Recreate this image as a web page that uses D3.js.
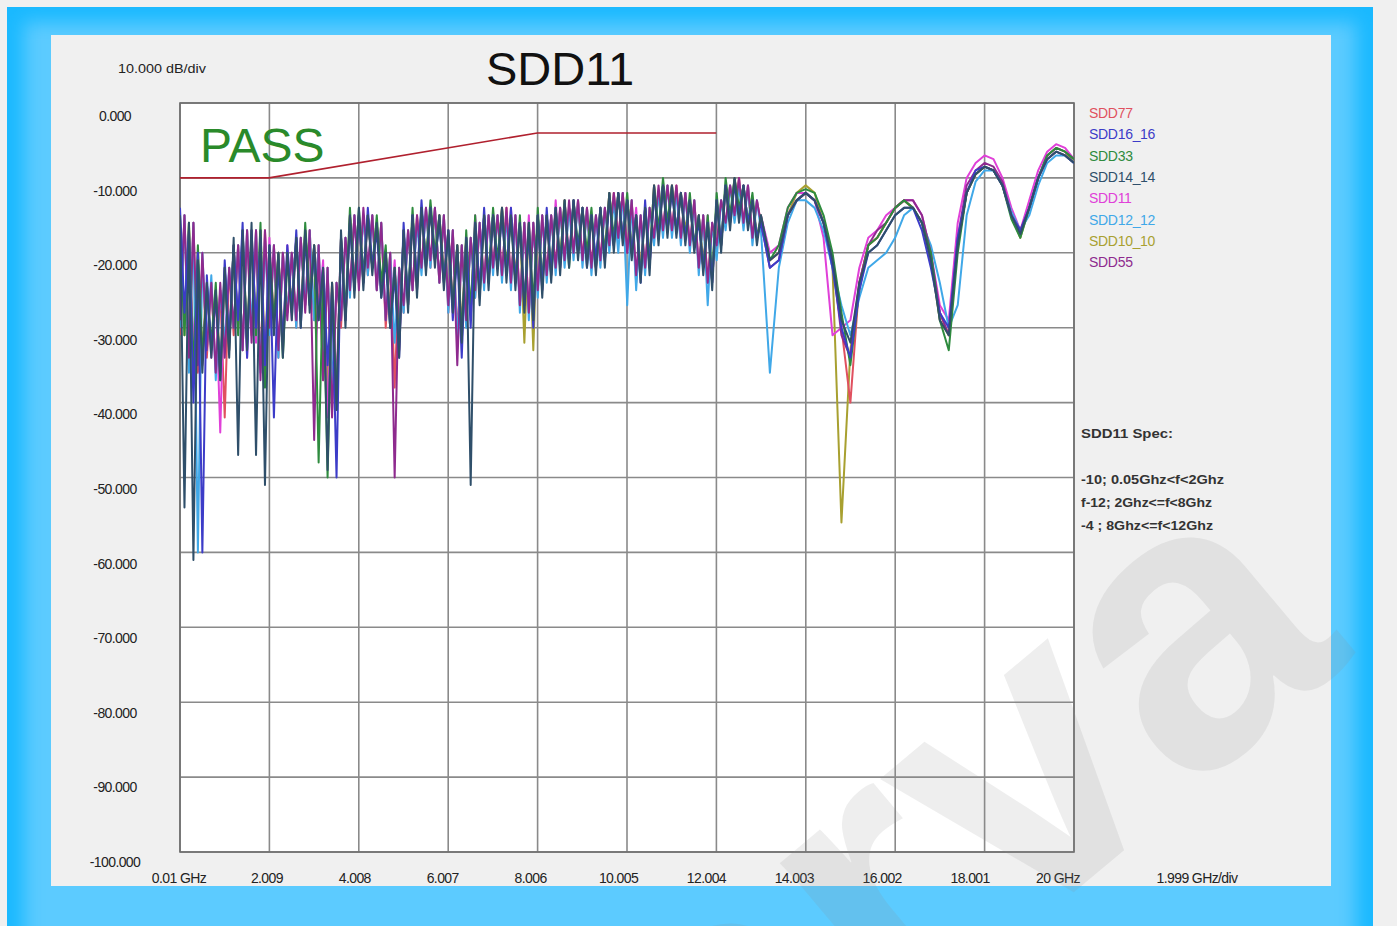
<!DOCTYPE html>
<html><head><meta charset="utf-8">
<script src="https://cdn.jsdelivr.net/npm/d3@7"></script>
<style>body{margin:0;background:#f0f0f0;overflow:hidden}text{font-family:"Liberation Sans",Arial,sans-serif}</style>
</head><body><svg id="c" width="1397" height="926"></svg>
<script>
// ---- sweep (x) ----
const combStart = 0.01, combStep = 0.1, combCount = 130;   // dense part 0.01 .. 12.91 GHz
const tailStart = 13.0, tailStep = 0.2, tailCount = 36;    // 13.0 .. 20.0 GHz
const xTickValues = [0.01, 2.009, 4.008, 6.007, 8.006, 10.005, 12.004, 14.003, 16.002, 18.001, 20.0];
const xTickLabels = ["0.01 GHz","2.009","4.008","6.007","8.006","10.005","12.004","14.003","16.002","18.001","20 GHz"];
const yTickValues = [0,-10,-20,-30,-40,-50,-60,-70,-80,-90,-100];
const yTickLabels = ["0.000","-10.000","-20.000","-30.000","-40.000","-50.000","-60.000","-70.000","-80.000","-90.000","-100.000"];

// ---- spec mask ----
const specFreq = [0.01, 2, 8, 12];
const specDb = [-10, -10, -4, -4];

// ---- series names / colours ----
const seriesNames = ["SDD77","SDD16_16","SDD33","SDD14_14","SDD11","SDD12_12","SDD10_10","SDD55"];
const seriesColors = ["#e0505f","#3c3cc8","#2e8b3e","#2f4f6a","#e040d8","#40a8e8","#a8a030","#8e2a8e"];
const drawOrder = ["SDD10_10","SDD77","SDD11","SDD12_12","SDD55","SDD33","SDD16_16","SDD14_14"];

// ---- series values (dB) ----
const sdd14_14 = [-15,-54,-16,-61,-21,-36,-24,-34,-25,-37,-22,-34,-18,-47,-17,-33,-16,-47,-17,-51,
-19,-31,-20,-34,-20,-29,-18,-30,-17,-28,-19,-29,-22,-49,-24,-41,-17,-30,-15,-26,
-14,-25,-15,-23,-16,-26,-20,-30,-22,-34,-17,-28,-15,-26,-14,-23,-14,-22,-15,-25,
-17,-28,-19,-32,-18,-51,-16,-27,-15,-25,-15,-23,-14,-24,-15,-25,-16,-28,-16,-29,
-15,-26,-15,-24,-14,-23,-13,-22,-13,-21,-14,-22,-15,-23,-14,-22,-12,-20,-12,-19,
-13,-21,-15,-24,-14,-23,-11,-19,-11,-18,-11,-18,-12,-19,-13,-20,-15,-23,-16,-25,
-13,-20,-11,-17,-10,-16,-11,-17,-13,-19,
-15,-21,-20,-15,-13,-12,-13,-16,-21,-29,-32,-24,-20,-19,-17,-15,-14,-14,-16,-21,-29,-31,-19,-12,-9.5,-8.5,-9,-11,-15,-17.5,-14,-10,-7.5,-6.5,-7,-8];
const sdd16_16 = [-14,-28,-17,-40,-20,-60,-23,-33,-26,-36,-21,-32,-19,-29,-16,-34,-17,-30,-18,-35,
-19,-42,-21,-32,-19,-28,-17,-30,-18,-27,-20,-29,-22,-35,-25,-50,-18,-29,-16,-25,
-15,-24,-14,-22,-17,-26,-21,-30,-23,-34,-16,-27,-15,-24,-13,-22,-14,-21,-16,-24,
-17,-29,-20,-34,-18,-30,-16,-25,-14,-24,-15,-22,-15,-23,-14,-24,-16,-27,-17,-30,
-15,-25,-14,-23,-14,-22,-14,-21,-13,-20,-14,-22,-15,-21,-14,-21,-13,-19,-12,-18,
-13,-20,-15,-24,-13,-22,-12,-18,-11,-17,-12,-17,-12,-18,-13,-19,-16,-22,-16,-24,
-13,-19,-11,-16,-11,-15,-11,-16,-13,-18,
-16,-22,-21,-15,-13,-12,-13,-16,-22,-30,-34,-25,-20,-19,-17,-15,-14,-14,-17,-22,-28,-30,-18,-12,-9,-8.5,-9,-11,-15,-17,-14,-10,-7.5,-6.5,-7,-8];
const sdd33 = [-16,-31,-16,-36,-19,-34,-25,-32,-24,-37,-23,-33,-19,-31,-17,-32,-18,-31,-16,-38,
-20,-29,-20,-34,-21,-27,-18,-29,-16,-26,-19,-48,-23,-50,-24,-40,-18,-28,-14,-25,
-14,-23,-15,-22,-15,-24,-19,-30,-22,-32,-17,-26,-14,-25,-14,-21,-13,-20,-15,-23,
-18,-27,-19,-31,-17,-28,-15,-26,-15,-23,-14,-21,-14,-22,-15,-24,-15,-27,-16,-27,
-14,-24,-15,-22,-14,-21,-13,-22,-13,-19,-14,-20,-14,-22,-14,-20,-12,-18,-12,-18,
-12,-20,-15,-23,-14,-21,-11,-17,-10,-16,-11,-17,-12,-18,-12,-19,-15,-22,-15,-23,
-12,-19,-10,-15,-10,-14,-11,-16,-12,-18,
-15,-21,-19,-14,-12,-11.5,-12,-15,-20,-28,-35,-25,-19,-18,-16,-14,-13,-14,-16,-20,-29,-33,-20,-12,-9.5,-8.5,-9,-11,-15.5,-18,-14,-10,-7,-6,-6.5,-7.5];
const sdd11 = [-16,-29,-17,-33,-20,-35,-24,-34,-25,-44,-22,-33,-19,-30,-18,-34,-17,-32,-18,-36,
-18,-30,-20,-33,-19,-29,-18,-28,-17,-27,-19,-28,-21,-42,-24,-38,-18,-29,-15,-24,
-15,-24,-15,-22,-16,-25,-20,-29,-21,-33,-17,-27,-15,-25,-14,-22,-14,-21,-15,-23,
-17,-27,-19,-31,-18,-29,-15,-25,-15,-24,-15,-22,-14,-23,-14,-24,-16,-27,-15,-28,
-15,-25,-15,-23,-13,-22,-13,-21,-13,-20,-14,-21,-15,-22,-14,-21,-12,-19,-12,-18,
-13,-20,-14,-23,-14,-22,-11,-18,-11,-17,-11,-17,-12,-18,-13,-19,-15,-22,-15,-24,
-13,-19,-11,-16,-10,-15,-11,-16,-13,-18,
-15,-20,-19,-14,-12,-12,-13,-18,-31,-30,-29,-22,-18,-17,-15,-14,-13,-13,-15,-20,-27,-29,-16,-10,-8,-7,-7.5,-10,-14,-17,-13,-9,-6.5,-5.5,-6,-7.5];
const sdd12_12 = [-30,-15,-36,-16,-60,-20,-33,-23,-37,-25,-32,-22,-30,-19,-33,-17,-30,-17,-36,-18,
-31,-19,-34,-20,-28,-20,-30,-18,-27,-17,-29,-19,-35,-22,-38,-24,-29,-18,-26,-15,
-24,-15,-23,-15,-25,-16,-29,-20,-32,-22,-28,-17,-25,-16,-23,-14,-22,-14,-24,-15,
-28,-17,-32,-19,-30,-18,-26,-16,-25,-15,-23,-15,-24,-15,-25,-15,-28,-16,-29,-16,
-26,-15,-24,-15,-23,-14,-22,-14,-21,-13,-22,-14,-23,-15,-22,-14,-20,-13,-20,-12,
-27,-13,-25,-15,-23,-14,-19,-12,-18,-11,-18,-12,-19,-12,-20,-13,-23,-15,-27,-16,
-21,-13,-17,-11,-16,-11,-17,-11,-19,-13,
-17,-36,-22,-16,-13,-13,-14,-17,-22,-27,-31,-26,-22,-21,-20,-18,-15,-14,-16,-19,-24,-30,-27,-15,-10.5,-9,-9,-11,-14.5,-17,-15,-11,-8,-7,-7,-8];
const sdd10_10 = [-15,-31,-16,-34,-21,-33,-24,-33,-25,-35,-22,-32,-19,-30,-17,-32,-17,-30,-17,-34,
-19,-29,-20,-32,-20,-27,-18,-29,-17,-26,-19,-27,-22,-38,-24,-40,-18,-29,-15,-24,
-15,-24,-15,-22,-16,-24,-20,-28,-22,-33,-17,-27,-15,-24,-14,-21,-14,-21,-15,-23,
-17,-27,-19,-30,-18,-28,-16,-25,-15,-23,-15,-22,-14,-22,-15,-23,-16,-32,-16,-33,
-15,-24,-15,-23,-14,-21,-13,-21,-13,-20,-14,-21,-15,-22,-14,-20,-12,-19,-12,-18,
-13,-19,-15,-22,-14,-21,-11,-17,-11,-16,-11,-17,-12,-17,-13,-19,-15,-21,-16,-23,
-13,-19,-11,-16,-10,-15,-11,-16,-13,-18,
-16,-21,-20,-15,-12,-11,-12,-16,-22,-56,-33,-24,-19,-18,-16,-14,-13,-14,-16,-21,-29,-31,-19,-12,-9.5,-8.5,-9,-11,-15,-18,-14,-10,-7,-6,-6.5,-8];
const sdd77 = [-31,-15,-35,-16,-36,-21,-34,-24,-36,-25,-42,-22,-31,-19,-33,-17,-31,-17,-35,-17,
-31,-19,-34,-20,-28,-20,-30,-18,-27,-17,-29,-19,-37,-22,-41,-24,-30,-18,-25,-15,
-24,-15,-23,-15,-25,-16,-30,-20,-38,-22,-28,-17,-25,-15,-22,-14,-22,-14,-24,-15,
-28,-17,-31,-19,-29,-18,-26,-16,-24,-15,-22,-15,-23,-14,-24,-15,-27,-16,-28,-16,
-25,-15,-23,-15,-22,-14,-21,-14,-20,-13,-21,-14,-22,-15,-21,-14,-19,-12,-18,-12,
-20,-13,-24,-15,-22,-14,-18,-12,-17,-11,-17,-11,-18,-12,-19,-13,-22,-15,-24,-16,
-19,-13,-16,-11,-15,-10,-16,-11,-18,-13,
-16,-21,-20,-15,-13,-12,-13,-16,-21,-30,-40,-24,-19,-18,-16,-14,-13,-14,-16,-21,-28,-31,-19,-12,-9.5,-8.5,-9,-11,-15,-17,-14,-10,-7.5,-6.5,-7,-8];
const sdd55 = [-29,-15,-34,-16,-35,-20,-33,-24,-36,-24,-34,-22,-30,-19,-33,-17,-32,-17,-37,-17,
-30,-19,-33,-20,-29,-20,-29,-18,-28,-17,-45,-19,-37,-22,-42,-24,-29,-18,-25,-15,
-25,-14,-22,-15,-25,-16,-29,-20,-50,-22,-27,-17,-25,-15,-22,-14,-21,-14,-24,-15,
-27,-17,-35,-19,-29,-18,-25,-16,-24,-15,-22,-15,-23,-14,-24,-15,-27,-16,-28,-16,
-25,-15,-23,-15,-22,-14,-21,-13,-20,-13,-21,-14,-22,-15,-21,-14,-19,-12,-18,-12,
-20,-13,-23,-15,-22,-14,-18,-11,-17,-11,-17,-11,-18,-12,-19,-13,-22,-15,-24,-16,
-19,-13,-16,-11,-15,-10,-16,-11,-18,-13,
-16,-22,-21,-15,-13,-12,-13,-16,-21,-31,-34,-24,-19,-17,-16,-14,-13,-13,-15,-20,-28,-31,-18,-11,-9,-8,-8.5,-10.5,-15,-17,-14,-10,-7,-6,-6.5,-7.5];

const seriesValues = {SDD77:sdd77, SDD16_16:sdd16_16, SDD33:sdd33, SDD14_14:sdd14_14,
  SDD11:sdd11, SDD12_12:sdd12_12, SDD10_10:sdd10_10, SDD55:sdd55};

const freqs = d3.range(combCount).map(i => combStart + combStep*i)
  .concat(d3.range(tailCount).map(i => tailStart + tailStep*i));

// ---- layout ----
const svg = d3.select("#c");
const plot = {l:180, t:103, r:1074, b:852};

const defs = svg.append("defs");
const blur = defs.append("filter").attr("id","bl").attr("x","-10%").attr("y","-10%").attr("width","120%").attr("height","120%");
blur.append("feGaussianBlur").attr("stdDeviation", 9);
defs.append("clipPath").attr("id","frameClip").append("rect").attr("x",7).attr("y",7).attr("width",1366).attr("height",930);
defs.append("clipPath").attr("id","plotClip").append("rect")
  .attr("x",plot.l).attr("y",plot.t).attr("width",plot.r-plot.l).attr("height",plot.b-plot.t);

// blue frame
const fr = svg.append("g").attr("clip-path","url(#frameClip)");
fr.append("rect").attr("x",7).attr("y",7).attr("width",1366).attr("height",930).attr("fill","#1ab9ff");
fr.append("rect").attr("x",24).attr("y",22).attr("width",1332).attr("height",930).attr("fill","#5ccbff").attr("filter","url(#bl)");

// inner panel
svg.append("rect").attr("x",51).attr("y",35).attr("width",1280).attr("height",851).attr("fill","#f0f0f0");

const x = d3.scaleLinear().domain([0.01, 20.0]).range([plot.l, plot.r]);
const y = d3.scaleLinear().domain([0, -100]).range([plot.t, plot.b]);

svg.append("rect").attr("x",plot.l).attr("y",plot.t).attr("width",plot.r-plot.l).attr("height",plot.b-plot.t).attr("fill","#ffffff");

// grid
const grid = svg.append("g");
grid.selectAll("line.v").data(xTickValues).join("line")
  .attr("x1",d=>x(d)).attr("x2",d=>x(d)).attr("y1",plot.t).attr("y2",plot.b)
  .attr("stroke","#8a8a8a").attr("stroke-width",1.6);
grid.selectAll("line.h").data(yTickValues).join("line")
  .attr("x1",plot.l).attr("x2",plot.r).attr("y1",d=>y(d)).attr("y2",d=>y(d))
  .attr("stroke","#8a8a8a").attr("stroke-width",1.6);
svg.append("rect").attr("x",plot.l).attr("y",plot.t).attr("width",plot.r-plot.l).attr("height",plot.b-plot.t)
  .attr("fill","none").attr("stroke","#6e6e6e").attr("stroke-width",1.6);

// spec mask line
const specLine = d3.line().x((d,i)=>x(specFreq[i])).y(d=>y(d));
svg.append("path").attr("d", specLine(specDb)).attr("fill","none").attr("stroke","#b0202e").attr("stroke-width",1.6);

// PASS
svg.append("text").attr("x",200).attr("y",162).attr("font-size",48).attr("fill","#2a8a2a").text("PASS");

// traces
const line = d3.line().x((d,i)=>x(freqs[i])).y(d=>y(d)).curve(d3.curveLinear);
const tg = svg.append("g").attr("clip-path","url(#plotClip)");
drawOrder.forEach(name => {
  const ci = seriesNames.indexOf(name);
  tg.append("path").attr("d", line(seriesValues[name])).attr("fill","none")
    .attr("stroke", seriesColors[ci]).attr("stroke-width",2).attr("stroke-linejoin","round");
});

// title and unit labels
svg.append("text").attr("x",486).attr("y",85).attr("font-size",47).attr("fill","#111").text("SDD11");
svg.append("text").attr("x",118).attr("y",73).attr("font-size",12).attr("fill","#222")
  .attr("textLength",88).attr("lengthAdjust","spacingAndGlyphs").text("10.000 dB/div");

// y labels
svg.selectAll("text.yl").data(yTickValues).join("text").attr("class","yl")
  .attr("x",115).attr("y",(d,i)=>y(d)+18-i*0.3).attr("text-anchor","middle")
  .attr("font-size",14).attr("fill","#222").attr("letter-spacing","-0.6")
  .text((d,i)=>yTickLabels[i]);

// x labels
svg.selectAll("text.xl").data(xTickValues).join("text").attr("class","xl")
  .attr("x",(d,i)=>x(d)-1-i*1.5).attr("y",883).attr("text-anchor","middle")
  .attr("font-size",14).attr("fill","#222").attr("letter-spacing","-0.6")
  .text((d,i)=>xTickLabels[i]);
svg.append("text").attr("x",1197).attr("y",883).attr("text-anchor","middle")
  .attr("font-size",14).attr("fill","#222").attr("letter-spacing","-0.6").text("1.999 GHz/div");

// legend
svg.selectAll("text.lg").data(seriesNames).join("text").attr("class","lg")
  .attr("x",1089).attr("y",(d,i)=>118+i*21.3).attr("font-size",14).attr("letter-spacing","-0.3")
  .attr("fill",(d,i)=>seriesColors[i]).text(d=>d);

// spec notes
const notes = ["SDD11 Spec:", "-10;  0.05Ghz<f<2Ghz", "f-12; 2Ghz<=f<8Ghz", "-4 ; 8Ghz<=f<12Ghz"];
const notesY = [438, 484, 507, 530];
const notesW = [92, 143, 131, 132];
svg.selectAll("text.sn").data(notes).join("text").attr("class","sn")
  .attr("x",1081).attr("y",(d,i)=>notesY[i]).attr("font-size",13).attr("font-weight","bold")
  .attr("fill","#333").attr("textLength",(d,i)=>notesW[i]).attr("lengthAdjust","spacingAndGlyphs")
  .text(d=>d);

// watermark
svg.append("text").attr("transform","translate(725,1185) rotate(-40)")
  .attr("font-size",400).attr("font-weight","bold").attr("fill","rgba(140,140,140,0.15)")
  .style("pointer-events","none").text("arva");
</script></body></html>
